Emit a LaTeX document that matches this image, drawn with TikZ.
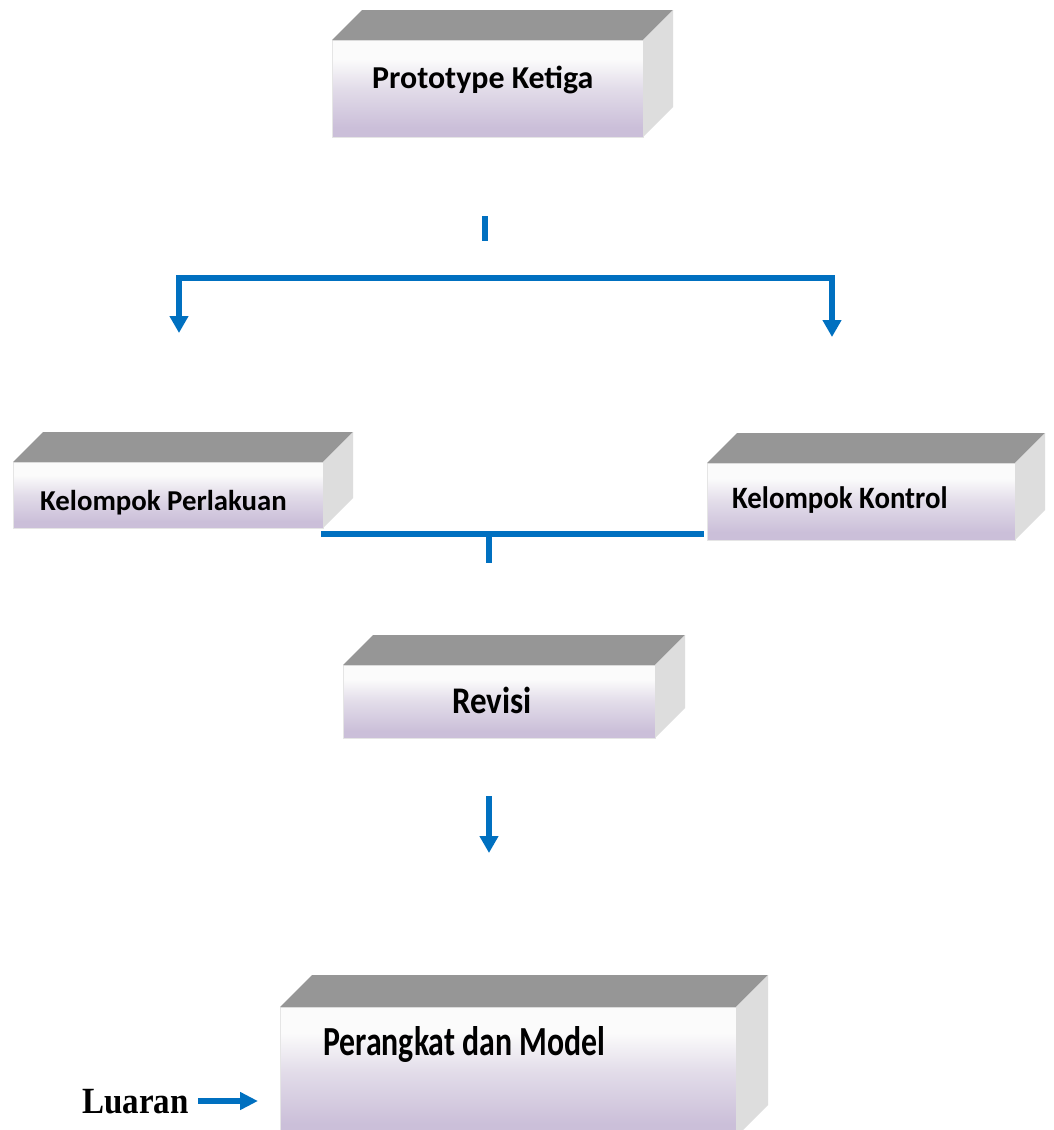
\documentclass[tikz,border=0pt]{standalone}
\usepackage{fontspec}
\setmainfont{Carlito}
\newfontfamily\luaranfont{Liberation Serif}
\usetikzlibrary{arrows.meta,calc}

\definecolor{flowblue}{RGB}{0,112,192}
\definecolor{lidgray}{RGB}{150,150,150}
\definecolor{sidegray}{RGB}{221,221,221}
\definecolor{lavender}{RGB}{203,191,217}
\definecolor{lavmid}{RGB}{226,220,233}
\definecolor{paper}{RGB}{251,251,251}

% front face: near white at the top, fading to lavender at the bottom
\pgfdeclareverticalshading{facefill}{100bp}{%
  color(0bp)=(lavender); color(30bp)=(lavender); color(50bp)=(lavmid);
  color(65bp)=(paper); color(100bp)=(paper)}

% lid and side of a block whose front face is node #1, depth #2
\newcommand\blockfaces[2]{%
  \fill[lidgray] (#1.north west) -- ++(#2,-#2) -- ($(#1.north east)+(#2,-#2)$)
    -- (#1.north east) -- cycle;
  \fill[sidegray] (#1.north east) -- ++(#2,-#2) -- ($(#1.south east)+(#2,-#2)$)
    -- (#1.south east) -- cycle;}

\tikzset{
  frontface/.style={shading=facefill, draw=black!10, line width=0.6pt,
    anchor=north west, inner sep=0pt, outer sep=0pt},
  caption/.style={anchor=base west, inner sep=0pt, font=\bfseries},
  flow/.style={draw=flowblue, line width=6pt},
  flowtip/.style={-{Triangle[width=18pt,length=17pt]}},
}

\begin{document}
\begin{tikzpicture}[x=1pt,y=-1pt]
\clip (0,0) rectangle (1054,1130);
\fill[white] (0,0) rectangle (1054,1130);

% blocks
\node[frontface, minimum width=311pt, minimum height=97pt] (proto) at (332,40) {};
\blockfaces{proto}{30}
\node[frontface, minimum width=310pt, minimum height=66pt] (treat) at (13,462) {};
\blockfaces{treat}{30}
\node[frontface, minimum width=308pt, minimum height=77pt] (ctrl) at (707,463) {};
\blockfaces{ctrl}{30}
\node[frontface, minimum width=312pt, minimum height=73pt] (rev) at (343,665) {};
\blockfaces{rev}{30}
\node[frontface, minimum width=456pt, minimum height=130pt] (out) at (280,1007) {};
\blockfaces{out}{32}

% labels
\node[caption, font=\bfseries\fontsize{31.9}{36}\selectfont] (protoText) at (372,88) {Prototype Ketiga};
\node[caption, font=\bfseries\fontsize{28.8}{34}\selectfont] (treatText) at (40,510) {Kelompok Perlakuan};
\node[caption, font=\bfseries\fontsize{28.8}{34}\selectfont] (ctrlText) at (732,508) {\scalebox{1}[1.08]{Kelompok Kontrol}};
\node[caption, font=\bfseries\fontsize{33}{38}\selectfont] (revText) at (452,713) {\scalebox{1}[1.14]{Revisi}};
\node[caption, font=\bfseries\fontsize{31.8}{36}\selectfont] (outText) at (323,1055) {\scalebox{1}[1.3]{Perangkat dan Model}};
\node[caption, font=\luaranfont\bfseries\fontsize{33}{38}\selectfont] (luaran) at (82,1113) {\scalebox{1}[1.12]{Luaran}};

% split below the first block
\coordinate (stubTop) at (485,216);
\coordinate (stubEnd) at (485,241);
\draw[flow] (stubTop) -- (stubEnd);
\coordinate (tipL) at (179,333);
\coordinate (cornerL) at (179,278);
\coordinate (cornerR) at (832,278);
\coordinate (tipR) at (832,337);
\draw[flow, {Triangle[width=18pt,length=17pt]}-{Triangle[width=18pt,length=17pt]}]
  (tipL) -- (cornerL) -- (cornerR) -- (tipR);

% merge of the two groups
\coordinate (mergeL) at (321,534);
\coordinate (mergeR) at (704,534);
\coordinate (mergeMid) at (489,534);
\coordinate (mergeEnd) at (489,563);
\draw[flow] (mergeL) -- (mergeR);
\draw[flow] (mergeMid) -- (mergeEnd);

% revision to output
\coordinate (revFrom) at (489,796);
\coordinate (revTo) at (489,853);
\draw[flow, flowtip] (revFrom) -- (revTo);

% output marker
\coordinate (luaranTip) at (258,1101);
\draw[draw=flowblue, line width=6pt, -{Triangle[width=17pt,length=18pt]}]
  (luaran.east |- luaranTip) ++(9,0) -- (luaranTip);
\end{tikzpicture}
\end{document}
